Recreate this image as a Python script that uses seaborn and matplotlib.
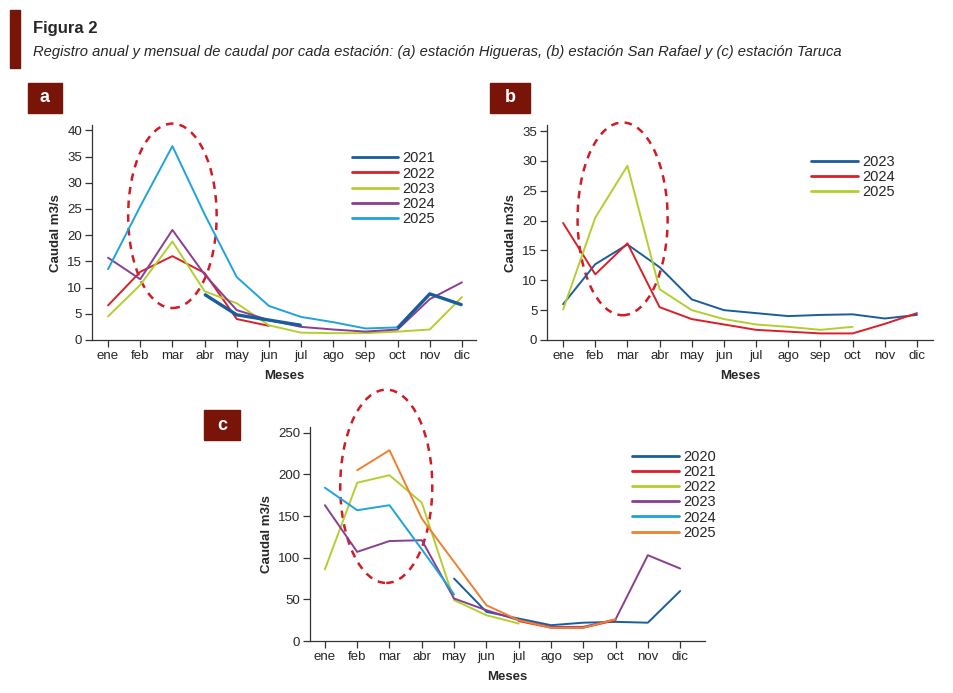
import numpy as np
import pandas as pd
import matplotlib
matplotlib.use("Agg")
import matplotlib.pyplot as plt
from matplotlib.patches import Ellipse, Rectangle
import seaborn as sns

nan = np.nan
months = ["ene", "feb", "mar", "abr", "may", "jun", "jul", "ago", "sep", "oct", "nov", "dic"]

# (a) estacion Higueras
a_years = ["2021", "2022", "2023", "2024", "2025"]
a_2021 = [nan, nan, nan, 8.7, 4.8, 3.8, 2.8, nan, nan, 2.3, 8.8, 6.7]
a_2022 = [6.6, 13.0, 16.0, 12.8, 4.0, 2.7, nan, nan, nan, nan, nan, nan]
a_2023 = [4.5, 10.5, 18.8, 9.3, 7.0, 2.8, 1.4, 1.3, 1.3, 1.6, 2.0, 8.2]
a_2024 = [15.7, 11.6, 21.0, 12.5, 5.7, 3.8, 2.5, 2.0, 1.6, 2.0, 7.8, 11.0]
a_2025 = [13.5, 25.5, 37.0, 24.0, 12.0, 6.5, 4.4, 3.4, 2.2, 2.4, nan, nan]

# (b) estacion San Rafael
b_years = ["2023", "2024", "2025"]
b_2023 = [6.0, 12.7, 16.0, 12.2, 6.8, 5.0, 4.5, 4.0, 4.2, 4.3, 3.6, 4.2]
b_2024 = [19.6, 11.0, 16.2, 5.5, 3.5, 2.6, 1.7, 1.4, 1.1, 1.1, 2.7, 4.5]
b_2025 = [5.1, 20.5, 29.2, 8.5, 5.0, 3.5, 2.6, 2.2, 1.7, 2.2, nan, nan]

# (c) estacion Taruca
c_years = ["2020", "2021", "2022", "2023", "2024", "2025"]
c_2020 = [nan, nan, nan, nan, 75, 35, 27, 19, 22, 23, 22, 60]
c_2021 = [nan, nan, nan, nan, nan, nan, 24, 16, 16, 25, nan, nan]
c_2022 = [86, 190, 199, 166, 49, 31, 21, nan, nan, nan, nan, nan]
c_2023 = [163, 107, 120, 121, 51, 37, 25, 17, 17, 26, 103, 87]
c_2024 = [184, 157, 163, 110, 56, nan, nan, nan, nan, nan, nan, nan]
c_2025 = [nan, 205, 229, 147, 95, 43, 25, 16, 16, 26, nan, nan]

DARK_BLUE = "#1a5d9c"
RED = "#d9202a"
GREEN = "#b3cf2f"
PURPLE = "#8a3e8f"
LIGHT_BLUE = "#1fa3dc"
ORANGE = "#ee8030"
MAROON = "#781508"


def long_form(years, series):
    # one row per month, with a unit id that breaks the line at gaps
    rows = []
    for yr, vals in zip(years, series):
        seg = 0
        prev_nan = True
        for i, v in enumerate(vals):
            if np.isnan(v):
                prev_nan = True
                continue
            if prev_nan:
                seg += 1
            prev_nan = False
            rows.append({"mes": i, "caudal": v, "year": yr, "unit": f"{yr}_{seg}"})
    return pd.DataFrame(rows)


def draw_panel(ax, years, series, palette, ylim, yticks, xlim, ellipse, legend_pos, widths=None):
    df = long_form(years, series)
    sns.lineplot(data=df, x="mes", y="caudal", hue="year", units="unit",
                 estimator=None, palette=palette, hue_order=years,
                 linewidth=1.4, ax=ax, legend=False, sort=False)
    # thicker line where needed
    if widths:
        for yr, lw in widths.items():
            sub = df[df["year"] == yr]
            for u, g in sub.groupby("unit"):
                ax.plot(g["mes"], g["caudal"], color=palette[yr], lw=lw, solid_capstyle="butt")
    ax.set_xlim(*xlim)
    ax.set_ylim(*ylim)
    ax.set_xticks(range(12))
    ax.set_xticklabels(months)
    ax.set_yticks(yticks)
    ax.set_xlabel("Meses", fontweight="bold", fontsize=9.5, labelpad=6)
    ax.set_ylabel("Caudal m3/s", fontweight="bold", fontsize=9.5)
    ax.tick_params(axis="both", labelsize=9.5, length=5, width=0.9, direction="out",
                   color="#333333", pad=2, bottom=True, left=True)
    for s in ["top", "right"]:
        ax.spines[s].set_visible(False)
    for s in ["left", "bottom"]:
        ax.spines[s].set_color("#333333")
        ax.spines[s].set_linewidth(0.9)
    cx, cy, w, h = ellipse
    ax.add_patch(Ellipse((cx, cy), w, h, fill=False, ec="#d01c24", ls=(0, (3, 2.5)),
                         lw=1.8, clip_on=False))
    handles = [plt.Line2D([], [], color=palette[y], lw=2) for y in years]
    ax.legend(handles, years, loc="upper left", bbox_to_anchor=legend_pos, frameon=False,
              fontsize=10.5, handlelength=3.2, labelspacing=0.08, handletextpad=0.3,
              borderaxespad=0)


sns.set_theme(style="white")
plt.rcParams["font.family"] = ["Liberation Sans", "DejaVu Sans"]

fig = plt.figure(figsize=(9.54, 6.93), dpi=100)

ax_a = fig.add_axes([0.0964, 0.5094, 0.403, 0.310])
ax_b = fig.add_axes([0.5734, 0.5094, 0.4046, 0.310])
ax_c = fig.add_axes([0.325, 0.075, 0.414, 0.309])

pal_a = {"2021": DARK_BLUE, "2022": RED, "2023": GREEN, "2024": PURPLE, "2025": LIGHT_BLUE}
draw_panel(ax_a, a_years, [a_2021, a_2022, a_2023, a_2024, a_2025], pal_a,
           (0, 41), range(0, 41, 5), (-0.5, 11.45), (2, 23.7, 2.75, 35.2), (0.66, 0.905),
           widths={"2021": 2.4})

pal_b = {"2023": DARK_BLUE, "2024": RED, "2025": GREEN}
draw_panel(ax_b, b_years, [b_2023, b_2024, b_2025], pal_b,
           (0, 36), range(0, 36, 5), (-0.5, 11.5), (1.85, 20.3, 2.8, 32.3), (0.67, 0.89))

pal_c = {"2020": DARK_BLUE, "2021": RED, "2022": GREEN, "2023": PURPLE, "2024": LIGHT_BLUE, "2025": ORANGE}
draw_panel(ax_c, c_years, [c_2020, c_2021, c_2022, c_2023, c_2024, c_2025], pal_c,
           (0, 257), range(0, 251, 50), (-0.46, 11.77), (1.9, 185.7, 2.85, 232), (0.8, 0.92))

# header
fig.patches.append(Rectangle((10 / 954, 1 - 68 / 693), 10 / 954, 58 / 693,
                             transform=fig.transFigure, color=MAROON, zorder=5))
fig.text(33 / 954, 1 - 28 / 693, "Figura 2", fontsize=12, fontweight="bold", va="center")
fig.text(33 / 954, 1 - 52 / 693,
         "Registro anual y mensual de caudal por cada estación: (a) estación Higueras, "
         "(b) estación San Rafael y (c) estación Taruca",
         fontsize=10.6, style="italic", va="center")

# panel letters
for letter, x0, y0, w, h in [("a", 28, 83, 34, 30), ("b", 490, 83, 40, 30), ("c", 204, 410, 36, 30)]:
    fig.patches.append(Rectangle((x0 / 954, 1 - (y0 + h) / 693), w / 954, h / 693,
                                 transform=fig.transFigure, color=MAROON, zorder=5))
    fig.text((x0 + w / 2) / 954, 1 - (y0 + h / 2) / 693, letter, color="white",
             fontsize=13, fontweight="bold", ha="center", va="center", zorder=6)

fig.savefig("out.png", dpi=100)
